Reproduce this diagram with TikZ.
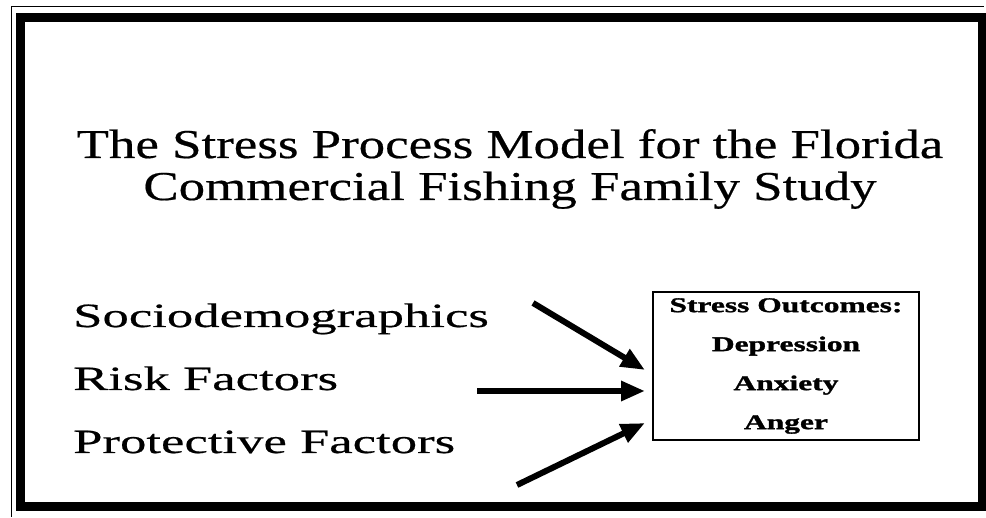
\documentclass[tikz,border=0pt]{standalone}
\usepackage{fontspec}
\usetikzlibrary{arrows.meta}
\setmainfont{Liberation Serif}
\newfontfamily\titlefont[FakeStretch=1.29, FakeBold=0.5]{Liberation Serif}
\newfontfamily\labelfont[FakeStretch=1.55, FakeBold=0.5]{Liberation Serif}
\newfontfamily\outfont[FakeStretch=1.5, FakeBold=1.5]{Liberation Serif}
\tikzset{
	heading/.style={anchor=base, inner sep=0pt, font=\titlefont\fontsize{41}{48}\selectfont},
	factor/.style={anchor=base west, inner sep=0pt, font=\labelfont\fontsize{34}{40}\selectfont},
	outbox/.style={draw, line width=1.2pt, minimum width=266pt, minimum height=148pt, align=center, font=\outfont\bfseries\fontsize{21}{39}\selectfont},
	influence/.style={line width=6pt, -{Triangle[length=24pt,width=19pt]}}
}

\begin{document}
\begin{tikzpicture}[x=1pt, y=-1pt]
	\useasboundingbox (0,0) rectangle (986,518);
	\draw[line width=0.8pt] (11.5,517) |- (984,6.5);
	\draw[line width=9pt] (20.5,17.5) rectangle (982,507);
	\node[heading](title1) at (510,158) {The Stress Process Model for the Florida};
	\node[heading](title2) at (510,200) {Commercial Fishing Family Study};
	\node[factor](socio) at (73,327) {Sociodemographics};
	\node[factor](risk) at (73,390) {Risk Factors};
	\node[factor](protect) at (73,453) {Protective Factors};
	\node[outbox](outcomes) at (786,366) {Stress Outcomes:\\Depression\\Anxiety\\Anger};
	\coordinate (socio-out) at (533,303);
	\coordinate (risk-out) at (477,391);
	\coordinate (protect-out) at (517,485);
	\coordinate (socio-in) at (645,370);
	\coordinate (risk-in) at (645,391);
	\coordinate (protect-in) at (645,423);
	\draw[influence] (socio-out) -- (socio-in);
	\draw[influence] (risk-out) -- (risk-in);
	\draw[influence] (protect-out) -- (protect-in);
\end{tikzpicture}
\end{document}
